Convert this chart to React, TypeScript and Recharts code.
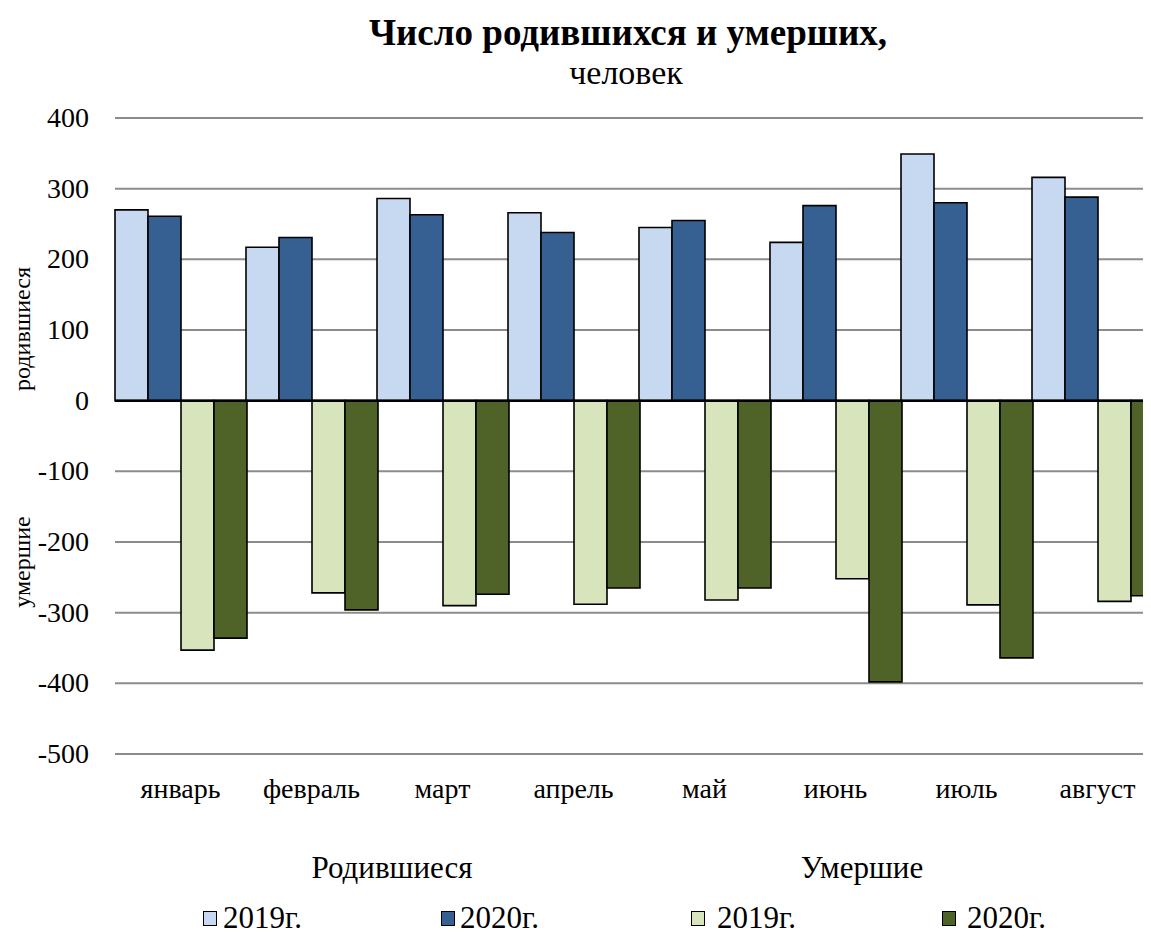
import { BarChart, Bar, XAxis, YAxis, CartesianGrid, ReferenceLine } from 'recharts';

const months = ['январь', 'февраль', 'март', 'апрель', 'май', 'июнь', 'июль', 'август'];
const births2019 = [270, 217, 286, 266, 245, 224, 349, 316];
const births2020 = [261, 231, 263, 238, 255, 276, 280, 288];
const deaths2019 = [-353, -272, -290, -288, -282, -252, -289, -284];
const deaths2020 = [-336, -296, -274, -265, -265, -398, -364, -276];
const yTicks = [-500, -400, -300, -200, -100, 0, 100, 200, 300, 400];

const series = [
  { key: 'b2019', name: '2019г.', color: '#c6d9f1' },
  { key: 'b2020', name: '2020г.', color: '#366092' },
  { key: 'd2019', name: '2019г.', color: '#d8e4bc' },
  { key: 'd2020', name: '2020г.', color: '#4f6228' },
];

const data = months.map((m, i) => ({
  month: m,
  b2019: births2019[i],
  b2020: births2020[i],
  d2019: deaths2019[i],
  d2020: deaths2020[i],
}));

const font = '"Liberation Serif", "Times New Roman", serif';

const abs = (x: number, y: number, extra: React.CSSProperties = {}): React.CSSProperties => ({
  position: 'absolute',
  left: x,
  top: y,
  transform: 'translate(-50%, -50%)',
  whiteSpace: 'nowrap',
  ...extra,
});

const legendPos = [
  { x: 203, gap: 6 },
  { x: 441, gap: 5 },
  { x: 691, gap: 12 },
  { x: 942, gap: 11 },
];

const MonthTick = (props: any) => {
  const { x, y, payload } = props;
  return (
    <text x={x} y={y + 42} textAnchor="middle" fontSize={28} fontFamily={font} fill="#000">
      {payload.value}
    </text>
  );
};

const ValueTick = (props: any) => {
  const { x, y, payload } = props;
  return (
    <text x={x - 24} y={y + 9} textAnchor="end" fontSize={28} fontFamily={font} fill="#000">
      {payload.value}
    </text>
  );
};

export default function App() {
  return (
    <div
      style={{
        position: 'relative',
        width: 1151,
        height: 938,
        margin: '-8px 0 0 -8px',
        overflow: 'hidden',
        background: '#fff',
        fontFamily: font,
        color: '#000',
      }}
    >
      <BarChart
        width={1200}
        height={938}
        data={data}
        margin={{ top: 118, right: 37, left: 0, bottom: 144 }}
        barCategoryGap={0}
        barGap={0}
      >
        <CartesianGrid vertical={false} stroke="#8c8c8c" strokeWidth={2} />
        <XAxis
          dataKey="month"
          height={40}
          axisLine={false}
          tickLine={false}
          tickSize={0}
          tick={<MonthTick />}
          interval={0}
        />
        <YAxis
          width={115}
          domain={[-500, 400]}
          ticks={yTicks}
          axisLine={false}
          tickLine={false}
          tickSize={0}
          tick={<ValueTick />}
        />
        {series.map((s) => (
          <Bar
            key={s.key}
            dataKey={s.key}
            fill={s.color}
            stroke="#000"
            strokeWidth={1.6}
            isAnimationActive={false}
          />
        ))}
        <ReferenceLine y={0} stroke="#000" strokeWidth={2.5} />
      </BarChart>

      <div style={abs(628, 32, { fontSize: 37, fontWeight: 'bold' })}>Число родившихся и умерших,</div>
      <div style={abs(626, 73, { fontSize: 34 })}>человек</div>

      <div style={abs(22, 329, { fontSize: 24, transform: 'translate(-50%, -50%) rotate(-90deg)' })}>родившиеся</div>
      <div style={abs(22, 562, { fontSize: 24, transform: 'translate(-50%, -50%) rotate(-90deg)' })}>умершие</div>

      <div style={abs(392, 868, { fontSize: 31 })}>Родившиеся</div>
      <div style={abs(862, 868, { fontSize: 31 })}>Умершие</div>

      {series.map((s, i) => (
        <div
          key={s.key}
          style={{
            position: 'absolute',
            left: legendPos[i].x,
            top: 900,
            display: 'flex',
            alignItems: 'center',
            fontSize: 31,
            whiteSpace: 'nowrap',
          }}
        >
          <span
            style={{
              width: 12,
              height: 13,
              background: s.color,
              border: '1.5px solid #000',
              marginRight: legendPos[i].gap,
            }}
          />
          <span>{s.name}</span>
        </div>
      ))}
    </div>
  );
}
